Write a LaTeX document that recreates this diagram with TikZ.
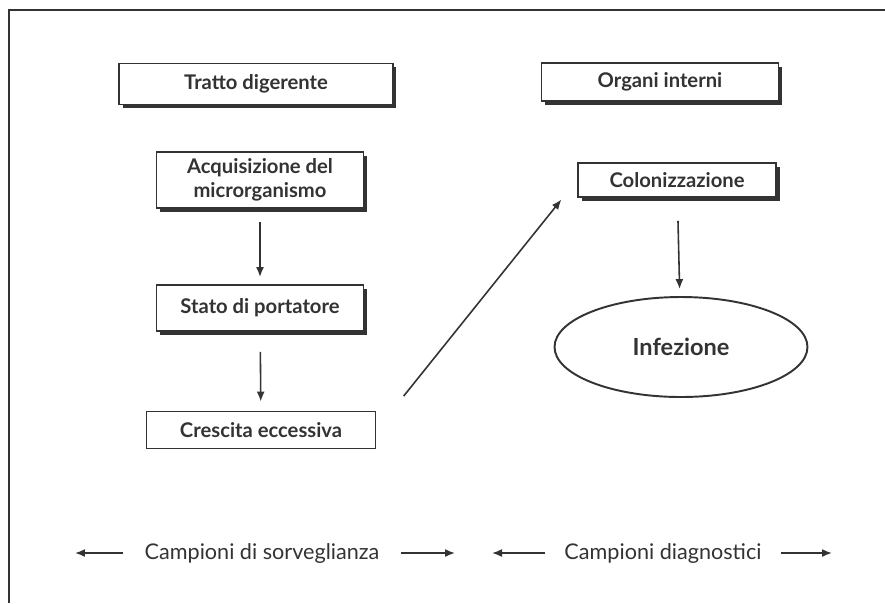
\documentclass[tikz,border=0pt]{standalone}
\usepackage{fontspec}
\setmainfont{Lato}
\usetikzlibrary{arrows.meta,shadows,shapes.geometric}
\definecolor{ink}{HTML}{333333}
\tikzset{
  boxnode/.style={draw=ink, line width=1.1pt, fill=white, text=ink, align=center,
    font=\fontsize{11.5}{13.5}\selectfont\bfseries, inner sep=0pt,
    drop shadow={shadow xshift=2pt, shadow yshift=-2pt, fill=ink, opacity=1}},
  flatbox/.style={draw=ink, line width=1.1pt, fill=white, text=ink, align=center,
    font=\fontsize{11.5}{13.5}\selectfont\bfseries, inner sep=0pt},
  flow/.style={draw=ink, line width=0.9pt, -{Latex[length=2mm,width=1.6mm]}},
  sample/.style={text=ink, font=\fontsize{12.3}{14}\selectfont}
}
\begin{document}
\begin{tikzpicture}[x=0.02cm, y=-0.02cm]
    \useasboundingbox (0,0) rectangle (885,603);
    \draw[ink, line width=1.5pt] (9,603) -- (9,10) -- (885,10);

    \node[boxnode, minimum width=5.48cm, minimum height=0.82cm] (tratto) at (256,84) {Tratto digerente};
    \node[boxnode, minimum width=4.74cm, minimum height=0.76cm] (organi) at (660,82) {Organi interni};

    \node[boxnode, minimum width=4.14cm, minimum height=1.12cm] (acquis) at (260,180) {Acquisizione del\\microrganismo};
    \node[boxnode, minimum width=4.14cm, minimum height=0.92cm] (stato) at (260,308) {Stato di portatore};
    \node[flatbox, minimum width=4.58cm, minimum height=0.74cm] (crescita) at (261,430) {Crescita eccessiva};

    \node[boxnode, minimum width=3.96cm, minimum height=0.68cm] (colon) at (677,180) {Colonizzazione};
    \node[ellipse, draw=ink, line width=1.1pt, text=ink, minimum width=5.06cm, minimum height=2cm,
      font=\fontsize{13.4}{15}\selectfont\bfseries] (infez) at (681,347) {Infezione};

    \draw[flow, shorten <=0.26cm, shorten >=0.14cm] (acquis) -- (stato);
    \draw[flow, shorten <=0.4cm, shorten >=0.18cm] (stato) -- (crescita);
    \draw[flow, shorten <=0.87cm, shorten >=0.5cm] (crescita.east) -- (colon.west);
    \draw[flow, shorten <=0.46cm, shorten >=0.14cm] (colon) -- (infez);

    \node[sample] (sorv) at (262,553) {Campioni di sorveglianza};
    \node[sample] (diagn) at (663,553) {Campioni diagnostici};
    \coordinate (sorvL) at (75,553);
    \coordinate (sorvR) at (455,553);
    \coordinate (diagnL) at (492,553);
    \coordinate (diagnR) at (832,553);
    \draw[flow, shorten <=0.3cm] (sorv.west) -- (sorvL);
    \draw[flow, shorten <=0.3cm] (sorv.east) -- (sorvR);
    \draw[flow, shorten <=0.26cm] (diagn.west) -- (diagnL);
    \draw[flow, shorten <=0.26cm] (diagn.east) -- (diagnR);
\end{tikzpicture}
\end{document}
